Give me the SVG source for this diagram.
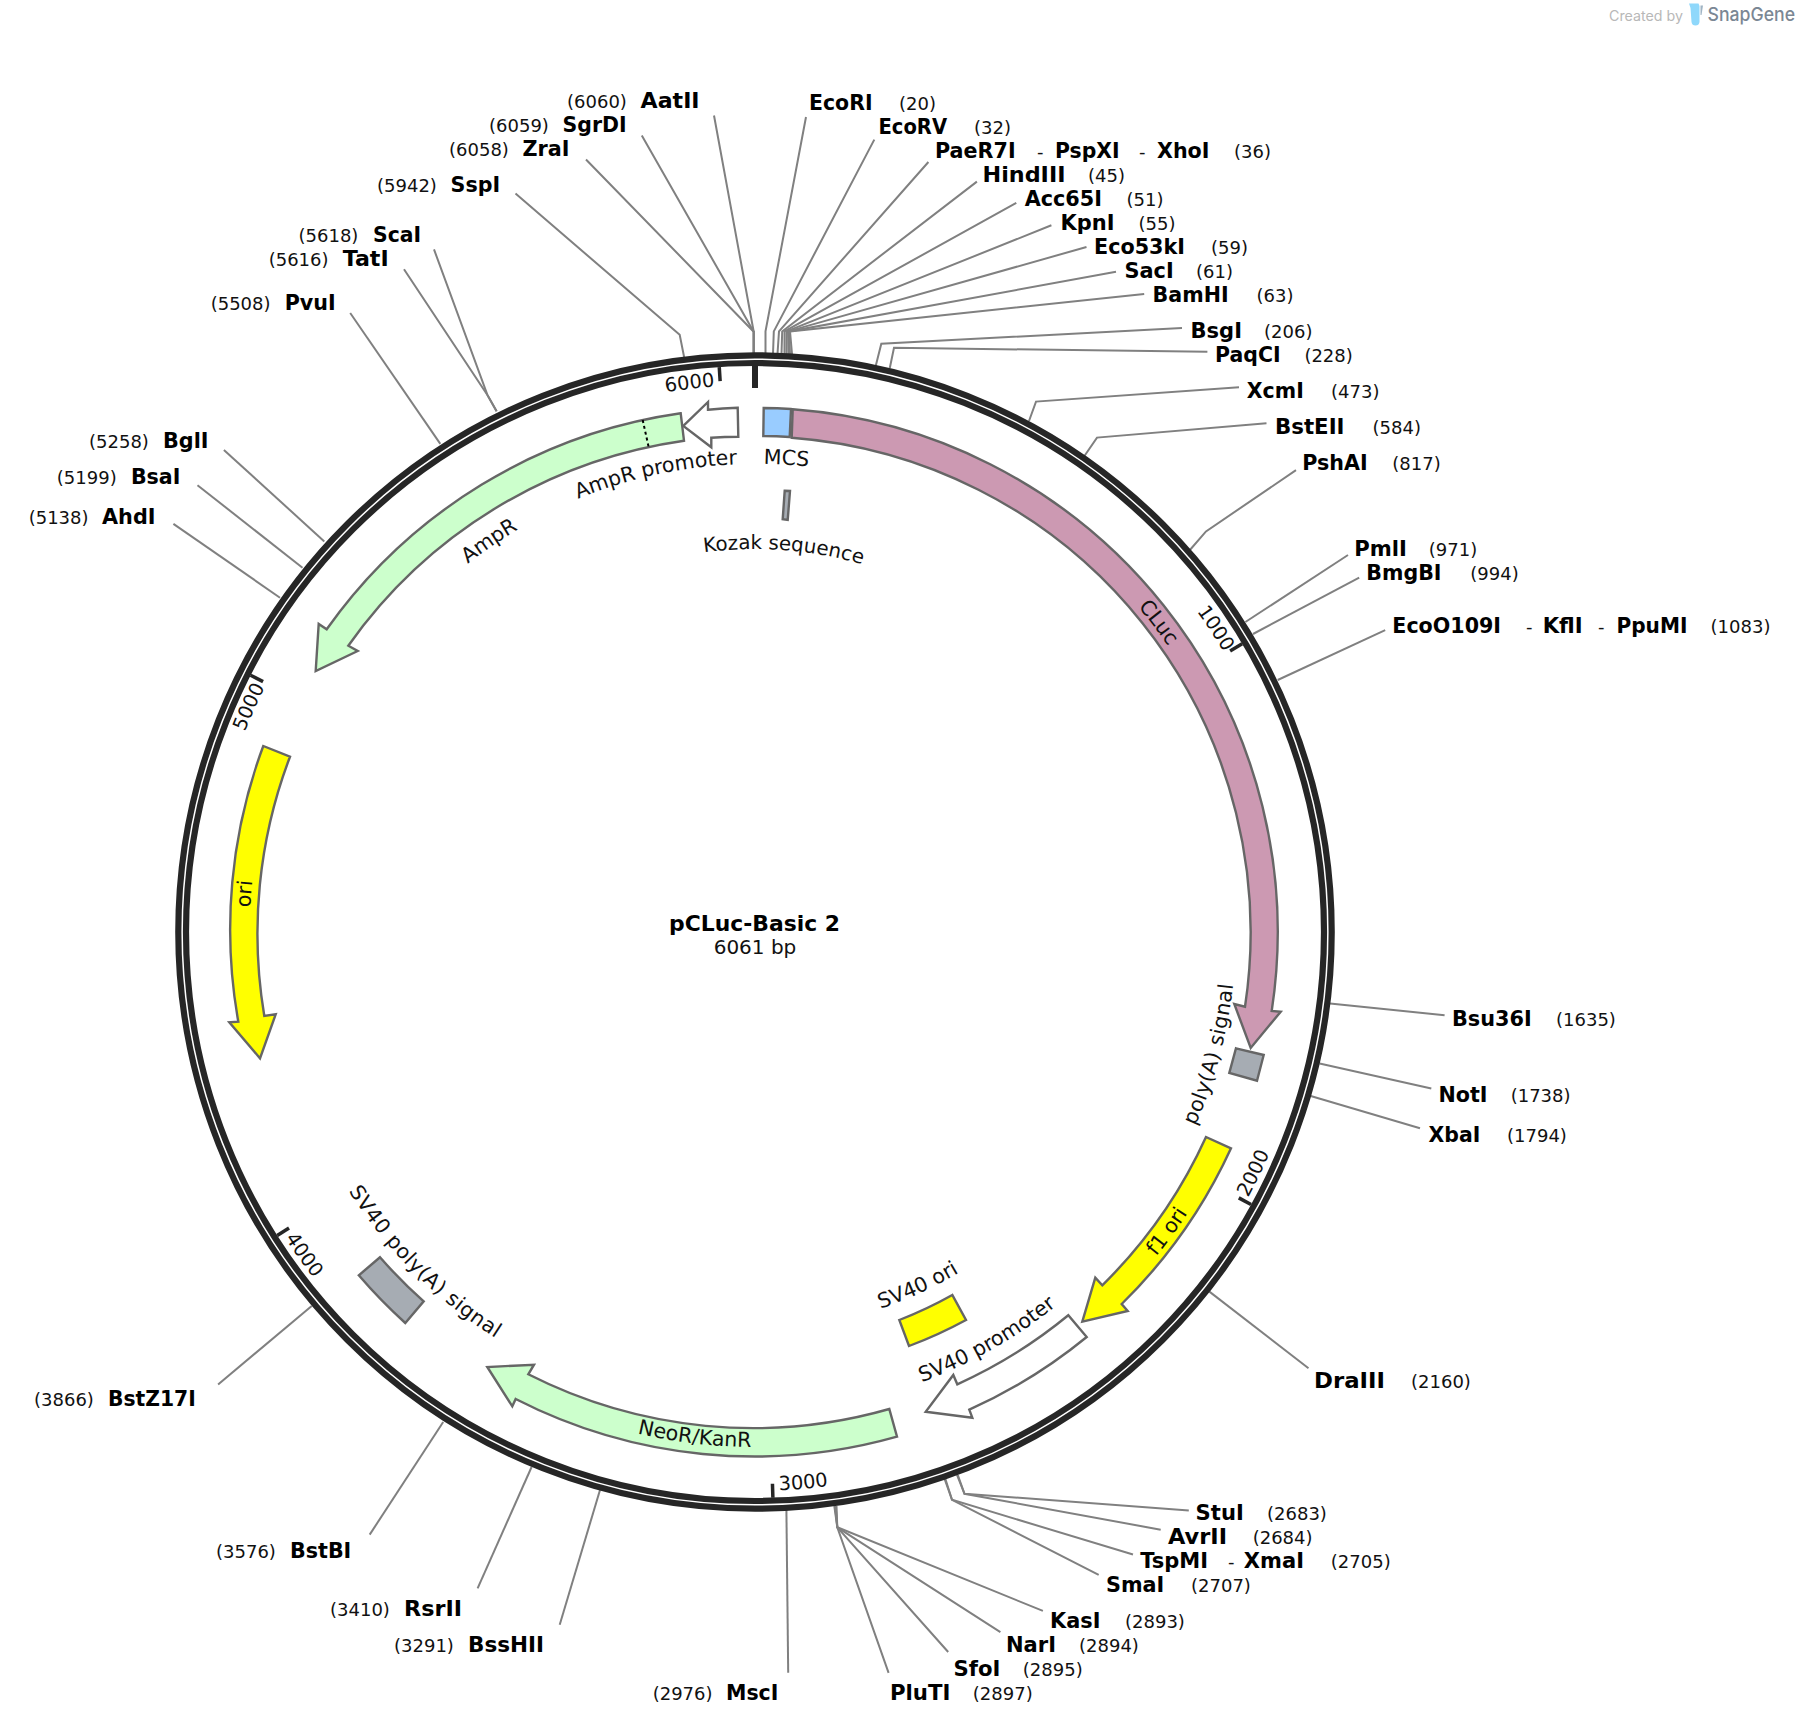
<svg xmlns="http://www.w3.org/2000/svg" xmlns:xlink="http://www.w3.org/1999/xlink" width="1802" height="1726" viewBox="0 0 1802 1726">
<style>
text{font-family:"DejaVu Sans","Liberation Sans",sans-serif;fill:#000}
.n{font-weight:bold;font-size:20.5px}
.p{font-size:18px;fill:#111}
.f{font-size:20.6px;fill:#111;text-anchor:middle}
.t{font-size:19.4px;fill:#111;text-anchor:middle}
.s{fill:none;stroke:#808080;stroke-width:2;stroke-linejoin:miter}
.r{fill:none;stroke:#262626;stroke-width:6.200}
.k{stroke:#262626;stroke-width:3.5}
.a{stroke:#666;stroke-width:2.4;stroke-linejoin:miter}
</style>
<defs>
<path id="T547" d="M208 932A547 547 0 0 1 1302 932"/>
<path id="T546" d="M209 932A546 546 0 0 1 1301 932"/>
<path id="T548" d="M207 932A548 548 0 0 1 1303 932"/>
<path id="T505" d="M249.500 932A505.500 505.500 0 0 1 1260.500 932"/>
<path id="T468" d="M287 932A468 468 0 0 1 1223 932"/>
<path id="T467" d="M288 932A467 467 0 0 1 1222 932"/>
<path id="T468b" d="M286.500 932A468.500 468.500 0 0 1 1223.500 932"/>
<path id="T383" d="M372 932A383 383 0 0 1 1138 932"/>
<path id="T502" d="M252.500 932A502.500 502.500 0 0 1 1257.500 932"/>
<path id="B560" d="M195 932A560 560 0 0 0 1315 932"/>
<path id="B559" d="M196 932A559 559 0 0 0 1314 932"/>
<path id="B561" d="M194 932A561 561 0 0 0 1316 932"/>
<path id="B481" d="M274 932A481 481 0 0 0 1236 932"/>
<path id="B397" d="M358 932A397 397 0 0 0 1152 932"/>
<path id="B480" d="M275 932A480 480 0 0 0 1235 932"/>
<path id="B515" d="M240 932A515 515 0 0 0 1270 932"/>
<path id="B516" d="M239 932A516 516 0 0 0 1271 932"/>
<path id="B482" d="M273 932A482 482 0 0 0 1237 932"/>
</defs>
<rect width="1802" height="1726" fill="#fff"/>

<g id="connectors">
<polyline class="s" points="753.700,354 753.700,331.700 714,115.500"/>
<polyline class="s" points="753.700,354 753.700,331.700 641.800,135.400"/>
<polyline class="s" points="753.700,354 753.700,331.700 586,159.500"/>
<polyline class="s" points="684.300,358 679.700,334.800 515.500,193.600"/>
<polyline class="s" points="496.600,411.300 487.400,394.900 434,249.400"/>
<polyline class="s" points="496.600,411.300 487.400,394.900 404,269.300"/>
<line class="s" x1="440.300" y1="443.900" x2="350.200" y2="313"/>
<line class="s" x1="324.300" y1="541.400" x2="223.900" y2="450"/>
<line class="s" x1="302.500" y1="567.800" x2="197.500" y2="485.200"/>
<line class="s" x1="280" y1="597.700" x2="173.400" y2="523.900"/>
<polyline class="s" points="765.500,354 765.500,331.400 806,117"/>
<polyline class="s" points="773,354 773.800,331.400 874.300,139.600"/>
<polyline class="s" points="777.500,354 779,331.400 928.400,162"/>
<polyline class="s" points="781.500,354 782.200,331.400 976.900,181.600"/>
<polyline class="s" points="784.500,354 784.500,331.400 1016.300,202.900"/>
<polyline class="s" points="786.500,354 786.500,331.400 1051.400,225.300"/>
<polyline class="s" points="788.500,354 788,331.400 1086.500,247"/>
<polyline class="s" points="790,354 789,331.400 1116,271.800"/>
<polyline class="s" points="792,354 790,331.400 1144.200,293.900"/>
<polyline class="s" points="875.700,366 881.300,343.700 1182,328"/>
<polyline class="s" points="889.800,368 894,347.800 1207.400,351.800"/>
<polyline class="s" points="1029,421 1036,401.600 1239,387.300"/>
<polyline class="s" points="1084.400,456 1097,437.600 1266.500,423.300"/>
<polyline class="s" points="1189.900,550 1206,531.400 1296,470.200"/>
<line class="s" x1="1245.400" y1="622" x2="1348" y2="555"/>
<line class="s" x1="1253" y1="634" x2="1359.200" y2="577.600"/>
<line class="s" x1="1277.700" y1="680" x2="1385.200" y2="630.200"/>
<line class="s" x1="1330" y1="1003.500" x2="1444.600" y2="1015.300"/>
<line class="s" x1="1319.600" y1="1063.400" x2="1431.300" y2="1088.600"/>
<line class="s" x1="1310.700" y1="1096" x2="1420" y2="1128.200"/>
<line class="s" x1="1209.400" y1="1291.600" x2="1308.500" y2="1368.300"/>
<polyline class="s" points="957,1475 964.500,1493.800 1188.800,1510.400"/>
<polyline class="s" points="957.800,1475 964.500,1493.800 1160.700,1529.700"/>
<polyline class="s" points="944.600,1479 952,1499.800 1133,1554.500"/>
<polyline class="s" points="945.400,1479 952,1499.800 1098.700,1574.800"/>
<polyline class="s" points="834.300,1506 837.300,1527.300 1042.900,1610.900"/>
<polyline class="s" points="835,1506 837.300,1527.300 1000.400,1632.200"/>
<polyline class="s" points="835.700,1506 837.300,1527.300 948.200,1652"/>
<polyline class="s" points="836.500,1506 837.300,1527.300 888.600,1672.800"/>
<line class="s" x1="786.400" y1="1510" x2="788.200" y2="1672.800"/>
<line class="s" x1="600" y1="1490" x2="559.700" y2="1624.700"/>
<line class="s" x1="531.600" y1="1467" x2="477.600" y2="1588.300"/>
<line class="s" x1="443.200" y1="1422" x2="369.700" y2="1534.600"/>
<line class="s" x1="311.700" y1="1306" x2="218.100" y2="1384.400"/>
</g>

<g id="backbone">
<circle class="r" cx="755" cy="932" r="576.700"/>
<circle class="r" cx="755" cy="932" r="569"/>
<rect x="752" y="366" width="6" height="22" fill="#262626"/>
<g id="ticks">
<line class="k" x1="755" y1="366" x2="755" y2="380" transform="rotate(59.396 755 932)"/>
<line class="k" x1="755" y1="366" x2="755" y2="380" transform="rotate(118.79 755 932)"/>
<line class="k" x1="755" y1="366" x2="755" y2="380" transform="rotate(178.19 755 932)"/>
<line class="k" x1="755" y1="366" x2="755" y2="380" transform="rotate(237.58 755 932)"/>
<line class="k" x1="755" y1="366" x2="755" y2="380" transform="rotate(296.98 755 932)"/>
<line class="k" x1="755" y1="366" x2="755" y2="380" transform="rotate(356.38 755 932)"/>
</g>
<text class="t" transform="rotate(56.6 755 932)"><textPath href="#T546" xlink:href="#T546" startOffset="50%">1000</textPath></text>
<text class="t" transform="rotate(-64.2 755 932)"><textPath href="#B560" xlink:href="#B560" startOffset="50%">2000</textPath></text>
<text class="t" transform="rotate(-5 755 932)"><textPath href="#B559" xlink:href="#B559" startOffset="50%">3000</textPath></text>
<text class="t" transform="rotate(54.4 755 932)"><textPath href="#B561" xlink:href="#B561" startOffset="50%">4000</textPath></text>
<text class="t" transform="rotate(294 755 932)"><textPath href="#T548" xlink:href="#T548" startOffset="50%">5000</textPath></text>
<text class="t" transform="rotate(-6.8 755 932)"><textPath href="#T547" xlink:href="#T547" startOffset="50%">6000</textPath></text>
</g>

<g id="feature-AmpR">
<path class="a" fill="#ccffcc" d="M680.700 413.300A524 524 0 0 0 326.700 629.300L318.700 624L315.700 671L357.700 651L348.300 645.700A496 496 0 0 1 684 440.700Z"/>
<line x1="642.700" y1="420" x2="648.700" y2="447.300" stroke="#000" stroke-width="2" stroke-dasharray="3 3"/>
<text class="f" transform="rotate(-34.2 755 932)"><textPath href="#T467" xlink:href="#T467" startOffset="50%">AmpR</textPath></text>
</g>
<g id="feature-AmpR-promoter">
<path class="a" fill="#fff" d="M737.700 407.700A524 524 0 0 0 708 409.700L708 402L683.300 426L711.300 447.300L711.300 437.700A496 496 0 0 1 738.300 436.700Z"/>
<text class="f" transform="rotate(-12.2 755 932)"><textPath href="#T468" xlink:href="#T468" startOffset="50%">AmpR promoter</textPath></text>
</g>
<g id="feature-MCS">
<path class="a" fill="#99ccff" d="M763.700 408A524 524 0 0 1 791 409L789.700 437A496 496 0 0 0 763.300 436Z"/>
<text class="f" transform="rotate(3.8 755 932)"><textPath href="#T468b" xlink:href="#T468b" startOffset="50%">MCS</textPath></text>
</g>
<g id="feature-Kozak">
<polygon class="a" fill="#a6acb3" points="784.700,490.700 790,491 787.700,520 782.700,519.300"/>
<text class="f" style="font-size:19.8px" transform="rotate(4.3 755 932)"><textPath href="#T383" xlink:href="#T383" startOffset="50%">Kozak sequence</textPath></text>
</g>
<g id="feature-CLuc">
<path class="a" fill="#cc99b2" d="M792.700 409.300A524 524 0 0 1 1271.700 1011L1280.700 1011.700L1250.700 1048L1234.300 1004L1245 1006.700A496 496 0 0 0 791.700 437.700Z"/>
<text class="f" transform="rotate(52.5 755 932)"><textPath href="#T502" xlink:href="#T502" startOffset="50%">CLuc</textPath></text>
</g>
<g id="feature-polyA">
<polygon class="a" fill="#a6acb3" points="1236,1048.300 1263.700,1055 1257,1080.700 1229.300,1073"/>
<text class="f" style="letter-spacing:0.45px" transform="rotate(-75 755 932)"><textPath href="#B481" xlink:href="#B481" startOffset="50%">poly(A) signal</textPath></text>
</g>
<g id="feature-f1-ori">
<path class="a" fill="#ffff00" d="M1231 1148.300A524 524 0 0 1 1121.700 1304L1127.700 1311L1082.300 1321.700L1095.300 1277.700L1102.300 1285.300A496 496 0 0 0 1206 1137Z"/>
<text class="f" transform="rotate(-54 755 932)"><textPath href="#B516" xlink:href="#B516" startOffset="50%">f1 ori</textPath></text>
</g>
<g id="feature-SV40-ori">
<path class="a" fill="#ffff00" d="M899.300 1320A414 414 0 0 0 952.300 1295L966 1320A442 442 0 0 1 909 1346Z"/>
<text class="f" transform="rotate(-24.7 755 932)"><textPath href="#B397" xlink:href="#B397" startOffset="50%">SV40 ori</textPath></text>
</g>
<g id="feature-SV40-promoter">
<path class="a" fill="#fff" d="M1086.700 1337A524 524 0 0 1 969.300 1409.700L972.300 1417.700L925.700 1411.700L953.300 1375L957.300 1384.300A496 496 0 0 0 1068.300 1315.300Z"/>
<text class="f" transform="rotate(-29.6 755 932)"><textPath href="#B480" xlink:href="#B480" startOffset="50%">SV40 promoter</textPath></text>
</g>
<g id="feature-NeoR">
<path class="a" fill="#ccffcc" d="M897 1436.700A524 524 0 0 1 515.700 1399L512.300 1406.300L487.300 1367L534 1364.700L528.300 1374.300A496 496 0 0 0 889.300 1409Z"/>
<text class="f" transform="rotate(6.8 755 932)"><textPath href="#B515" xlink:href="#B515" startOffset="50%">NeoR/KanR</textPath></text>
</g>
<g id="feature-SV40-polyA">
<path class="a" fill="#a6acb3" d="M380 1257.300A496 496 0 0 0 423.700 1301.400L405.300 1323A524 524 0 0 1 358.800 1275.300Z"/>
<text class="f" style="letter-spacing:0.47px" transform="rotate(45 755 932)"><textPath href="#B482" xlink:href="#B482" startOffset="50%">SV40 poly(A) signal</textPath></text>
</g>
<g id="feature-ori">
<path class="a" fill="#ffff00" d="M263.300 746L290 756.700A497 497 0 0 0 264.300 1016L275.700 1014.300L260 1058.300L229.300 1022.300L238.300 1021.700A524.500 524.500 0 0 1 263.300 746Z"/>
<text class="f" transform="rotate(274.3 755 932)"><textPath href="#T505" xlink:href="#T505" startOffset="50%">ori</textPath></text>
</g>

<g id="plasmid-title">
<text class="n" x="669" y="930.500" style="font-size:22px" textLength="171" lengthAdjust="spacingAndGlyphs">pCLuc-Basic 2</text>
<text x="755" y="954" style="font-size:20px;text-anchor:middle;fill:#111">6061 bp</text>
</g>

<g id="site-AatII"><text class="p" x="567" y="108">(6060)</text><text class="n" x="640.600" y="108" textLength="59" lengthAdjust="spacingAndGlyphs">AatII</text></g>
<g id="site-SgrDI"><text class="p" x="489" y="132">(6059)</text><text class="n" x="562.600" y="132" textLength="64" lengthAdjust="spacingAndGlyphs">SgrDI</text></g>
<g id="site-ZraI"><text class="p" x="449" y="156">(6058)</text><text class="n" x="522.400" y="156" textLength="47" lengthAdjust="spacingAndGlyphs">ZraI</text></g>
<g id="site-SspI"><text class="p" x="377" y="192">(5942)</text><text class="n" x="450.600" y="192" textLength="49.500" lengthAdjust="spacingAndGlyphs">SspI</text></g>
<g id="site-ScaI"><text class="p" x="298.500" y="242">(5618)</text><text class="n" x="373" y="242" textLength="48" lengthAdjust="spacingAndGlyphs">ScaI</text></g>
<g id="site-TatI"><text class="p" x="268.700" y="266">(5616)</text><text class="n" x="342.700" y="266" textLength="46" lengthAdjust="spacingAndGlyphs">TatI</text></g>
<g id="site-PvuI"><text class="p" x="210.700" y="310">(5508)</text><text class="n" x="284.700" y="310" textLength="51" lengthAdjust="spacingAndGlyphs">PvuI</text></g>
<g id="site-BglI"><text class="p" x="89" y="448">(5258)</text><text class="n" x="163" y="448" textLength="45.500" lengthAdjust="spacingAndGlyphs">BglI</text></g>
<g id="site-BsaI"><text class="p" x="56.800" y="483.600">(5199)</text><text class="n" x="130.900" y="483.600" textLength="49.500" lengthAdjust="spacingAndGlyphs">BsaI</text></g>
<g id="site-AhdI"><text class="p" x="28.700" y="524">(5138)</text><text class="n" x="102" y="524" textLength="53.500" lengthAdjust="spacingAndGlyphs">AhdI</text></g>

<g id="site-EcoRI"><text class="n" x="809" y="110" textLength="63.500" lengthAdjust="spacingAndGlyphs">EcoRI</text><text class="p" x="899" y="110">(20)</text></g>
<g id="site-EcoRV"><text class="n" x="878.500" y="134" textLength="68.500" lengthAdjust="spacingAndGlyphs">EcoRV</text><text class="p" x="974" y="134">(32)</text></g>
<g id="site-PaeR7I-PspXI-XhoI"><text class="n" x="935" y="158" textLength="80.600" lengthAdjust="spacingAndGlyphs">PaeR7I</text><text class="p" x="1037" y="158">-</text><text class="n" x="1055" y="158" textLength="64.600" lengthAdjust="spacingAndGlyphs">PspXI</text><text class="p" x="1139" y="158">-</text><text class="n" x="1157" y="158" textLength="52.500" lengthAdjust="spacingAndGlyphs">XhoI</text><text class="p" x="1234" y="158">(36)</text></g>
<g id="site-HindIII"><text class="n" x="982.500" y="182" textLength="83" lengthAdjust="spacingAndGlyphs">HindIII</text><text class="p" x="1088" y="182">(45)</text></g>
<g id="site-Acc65I"><text class="n" x="1024.700" y="206.300" textLength="77.300" lengthAdjust="spacingAndGlyphs">Acc65I</text><text class="p" x="1126.600" y="206.300">(51)</text></g>
<g id="site-KpnI"><text class="n" x="1060.500" y="230.400" textLength="54" lengthAdjust="spacingAndGlyphs">KpnI</text><text class="p" x="1138.500" y="230.400">(55)</text></g>
<g id="site-Eco53kI"><text class="n" x="1094" y="254.300" textLength="91" lengthAdjust="spacingAndGlyphs">Eco53kI</text><text class="p" x="1211" y="254.300">(59)</text></g>
<g id="site-SacI"><text class="n" x="1124.500" y="278.400" textLength="49.200" lengthAdjust="spacingAndGlyphs">SacI</text><text class="p" x="1196" y="278.400">(61)</text></g>
<g id="site-BamHI"><text class="n" x="1152.600" y="302.400" textLength="76" lengthAdjust="spacingAndGlyphs">BamHI</text><text class="p" x="1256.600" y="302.400">(63)</text></g>
<g id="site-BsgI"><text class="n" x="1190.600" y="338.400" textLength="51.400" lengthAdjust="spacingAndGlyphs">BsgI</text><text class="p" x="1264" y="338.400">(206)</text></g>
<g id="site-PaqCI"><text class="n" x="1215" y="362.400" textLength="65.500" lengthAdjust="spacingAndGlyphs">PaqCI</text><text class="p" x="1304.400" y="362.400">(228)</text></g>
<g id="site-XcmI"><text class="n" x="1246.800" y="398" textLength="57" lengthAdjust="spacingAndGlyphs">XcmI</text><text class="p" x="1331" y="398">(473)</text></g>
<g id="site-BstEII"><text class="n" x="1275" y="434" textLength="69.500" lengthAdjust="spacingAndGlyphs">BstEII</text><text class="p" x="1372.600" y="434">(584)</text></g>
<g id="site-PshAI"><text class="n" x="1302.300" y="470" textLength="65.400" lengthAdjust="spacingAndGlyphs">PshAI</text><text class="p" x="1392.300" y="470">(817)</text></g>
<g id="site-PmlI"><text class="n" x="1354.300" y="556" textLength="52.700" lengthAdjust="spacingAndGlyphs">PmlI</text><text class="p" x="1428.800" y="556">(971)</text></g>
<g id="site-BmgBI"><text class="n" x="1366.300" y="580" textLength="75.200" lengthAdjust="spacingAndGlyphs">BmgBI</text><text class="p" x="1470.300" y="580">(994)</text></g>
<g id="site-EcoO109I-KflI-PpuMI"><text class="n" x="1392.300" y="632.600" textLength="108.700" lengthAdjust="spacingAndGlyphs">EcoO109I</text><text class="p" x="1526" y="632.600">-</text><text class="n" x="1542.700" y="632.600" textLength="40" lengthAdjust="spacingAndGlyphs">KflI</text><text class="p" x="1598" y="632.600">-</text><text class="n" x="1616.500" y="632.600" textLength="70.900" lengthAdjust="spacingAndGlyphs">PpuMI</text><text class="p" x="1710.600" y="632.600">(1083)</text></g>
<g id="site-Bsu36I"><text class="n" x="1452" y="1026" textLength="79.700" lengthAdjust="spacingAndGlyphs">Bsu36I</text><text class="p" x="1556" y="1026">(1635)</text></g>
<g id="site-NotI"><text class="n" x="1438.500" y="1101.800" textLength="49" lengthAdjust="spacingAndGlyphs">NotI</text><text class="p" x="1510.700" y="1101.800">(1738)</text></g>
<g id="site-XbaI"><text class="n" x="1428.600" y="1142" textLength="51.800" lengthAdjust="spacingAndGlyphs">XbaI</text><text class="p" x="1507" y="1142">(1794)</text></g>
<g id="site-DraIII"><text class="n" x="1314" y="1388" textLength="71" lengthAdjust="spacingAndGlyphs">DraIII</text><text class="p" x="1411" y="1388">(2160)</text></g>
<g id="site-StuI"><text class="n" x="1195.600" y="1520.200" textLength="48.200" lengthAdjust="spacingAndGlyphs">StuI</text><text class="p" x="1267" y="1520.200">(2683)</text></g>
<g id="site-AvrII"><text class="n" x="1168" y="1544" textLength="59" lengthAdjust="spacingAndGlyphs">AvrII</text><text class="p" x="1252.700" y="1544">(2684)</text></g>
<g id="site-TspMI-XmaI"><text class="n" x="1140.200" y="1568.200" textLength="67.800" lengthAdjust="spacingAndGlyphs">TspMI</text><text class="p" x="1228" y="1568.200">-</text><text class="n" x="1243.800" y="1568.200" textLength="60.200" lengthAdjust="spacingAndGlyphs">XmaI</text><text class="p" x="1330.800" y="1568.200">(2705)</text></g>
<g id="site-SmaI"><text class="n" x="1106" y="1592" textLength="58.300" lengthAdjust="spacingAndGlyphs">SmaI</text><text class="p" x="1191" y="1592">(2707)</text></g>
<g id="site-KasI"><text class="n" x="1050" y="1627.500" textLength="50.400" lengthAdjust="spacingAndGlyphs">KasI</text><text class="p" x="1125" y="1627.500">(2893)</text></g>
<g id="site-NarI"><text class="n" x="1006" y="1652" textLength="50" lengthAdjust="spacingAndGlyphs">NarI</text><text class="p" x="1079" y="1652">(2894)</text></g>
<g id="site-SfoI"><text class="n" x="953.500" y="1676" textLength="46.900" lengthAdjust="spacingAndGlyphs">SfoI</text><text class="p" x="1022.800" y="1676">(2895)</text></g>
<g id="site-PluTI"><text class="n" x="890" y="1700" textLength="60.400" lengthAdjust="spacingAndGlyphs">PluTI</text><text class="p" x="972.800" y="1700">(2897)</text></g>
<g id="site-MscI"><text class="p" x="652.700" y="1699.600">(2976)</text><text class="n" x="726" y="1699.600" textLength="52.400" lengthAdjust="spacingAndGlyphs">MscI</text></g>
<g id="site-BssHII"><text class="p" x="394" y="1651.800">(3291)</text><text class="n" x="468" y="1651.800" textLength="76" lengthAdjust="spacingAndGlyphs">BssHII</text></g>
<g id="site-RsrII"><text class="p" x="330" y="1615.800">(3410)</text><text class="n" x="404" y="1615.800" textLength="58" lengthAdjust="spacingAndGlyphs">RsrII</text></g>
<g id="site-BstBI"><text class="p" x="216" y="1557.800">(3576)</text><text class="n" x="290" y="1557.800" textLength="61.300" lengthAdjust="spacingAndGlyphs">BstBI</text></g>
<g id="site-BstZ17I"><text class="p" x="34" y="1405.700">(3866)</text><text class="n" x="108" y="1405.700" textLength="87.800" lengthAdjust="spacingAndGlyphs">BstZ17I</text></g>

<g id="credit">
<text x="1609" y="21" textLength="74" lengthAdjust="spacingAndGlyphs" style="font-family:Inter,'Liberation Sans',sans-serif;font-size:14px;fill:#b8b8b8">Created by</text>
<path d="M1689 3.500H1698.500L1699.500 6V22Q1699 25.500 1695.500 25.500Q1692 25.500 1691.500 22L1690.500 8Z" fill="#8fd8fb"/>
<path d="M1700.500 5.500H1703L1701.500 15H1700.500Z" fill="#9fb4c4"/>
<text x="1707.500" y="21" textLength="87.500" lengthAdjust="spacingAndGlyphs" style="font-family:Inter,'Liberation Sans',sans-serif;font-size:18.500px;font-weight:500;fill:#7b8794">SnapGene</text>
</g>
</svg>
